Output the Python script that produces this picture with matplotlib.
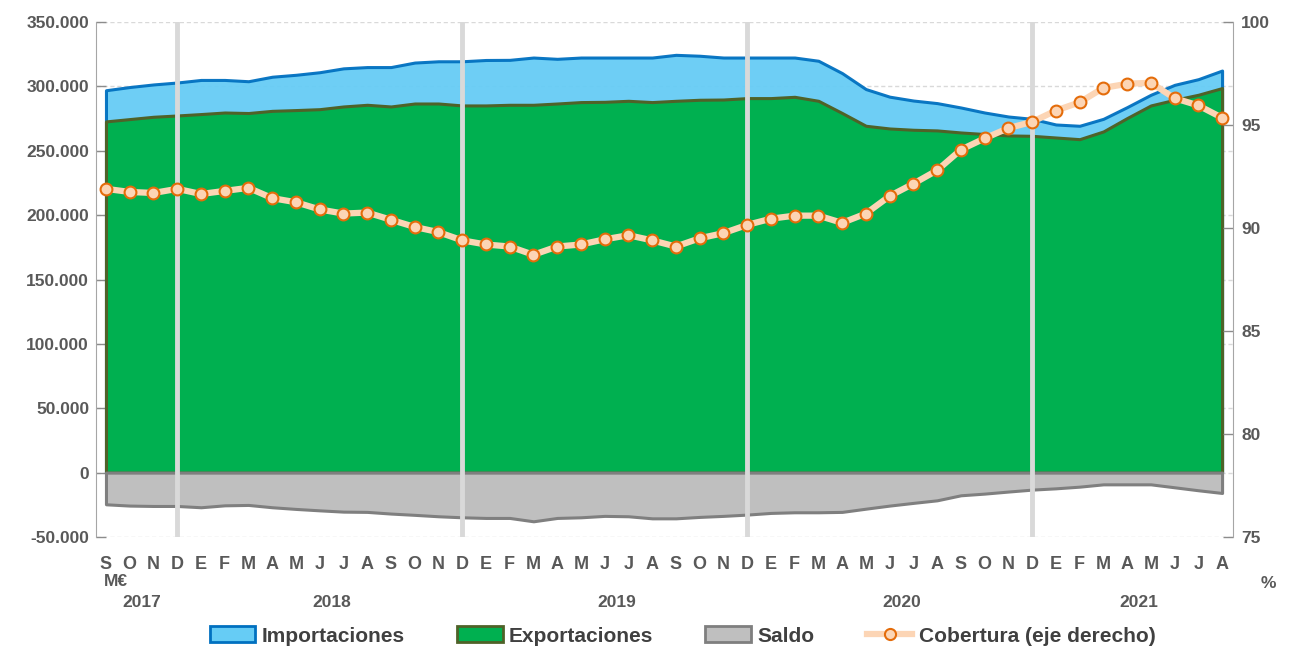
import numpy as np
import matplotlib.pyplot as plt
from matplotlib.patches import Patch
from matplotlib.lines import Line2D
from matplotlib.ticker import FuncFormatter

# Meses (sep 2017 - ago 2021)
meses = ['S', 'O', 'N', 'D',
         'E', 'F', 'M', 'A', 'M', 'J', 'J', 'A', 'S', 'O', 'N', 'D',
         'E', 'F', 'M', 'A', 'M', 'J', 'J', 'A', 'S', 'O', 'N', 'D',
         'E', 'F', 'M', 'A', 'M', 'J', 'J', 'A', 'S', 'O', 'N', 'D',
         'E', 'F', 'M', 'A', 'M', 'J', 'J', 'A']
anios = ['2017', '2018', '2019', '2020', '2021']
meses_por_anio = [4, 12, 12, 12, 8]

# Importaciones, exportaciones y saldo (miles de M€)
importaciones = [297.0, 299.5, 301.5, 303.0, 305.0, 305.0, 304.0, 307.5, 309.0, 311.0,
                 314.0, 315.0, 315.0, 318.5, 319.5, 319.5, 320.5, 320.6, 322.4, 321.4,
                 322.4, 322.4, 322.4, 322.4, 324.5, 323.8, 322.4, 322.4, 322.4, 322.4,
                 319.9, 310.3, 297.9, 292.0, 289.0, 287.0, 283.6, 279.7, 276.6, 274.8,
                 270.4, 269.4, 274.8, 283.9, 293.5, 301.2, 305.6, 312.3]
exportaciones = [272.8, 274.6, 276.4, 277.4, 278.5, 279.7, 279.3, 281.0, 281.6, 282.3,
                 284.4, 285.7, 284.4, 286.7, 286.7, 285.2, 285.2, 285.7, 285.7, 286.7,
                 287.8, 288.0, 288.8, 287.8, 288.8, 289.6, 289.8, 290.9, 290.9, 291.9,
                 288.8, 279.3, 269.4, 267.3, 266.3, 265.8, 264.2, 263.0, 261.9, 261.6,
                 260.3, 259.0, 265.0, 275.4, 285.2, 289.6, 293.5, 298.7]
saldo = [-24.6, -25.6, -25.9, -25.9, -26.9, -25.4, -25.1, -26.9, -28.2, -29.3,
         -30.3, -30.5, -31.8, -32.8, -33.9, -34.7, -35.2, -35.2, -37.8, -35.2,
         -34.7, -33.6, -33.9, -35.5, -35.5, -34.4, -33.6, -32.6, -31.3, -30.8,
         -30.8, -30.5, -28.0, -25.6, -23.5, -21.5, -17.6, -16.3, -14.7, -13.2,
         -12.2, -10.9, -9.1, -9.1, -9.1, -11.4, -13.7, -15.8]

# Cobertura (%), eje derecho
cobertura = [91.9, 91.75, 91.7, 91.9, 91.65, 91.8, 91.95, 91.45, 91.25, 90.9,
             90.7, 90.75, 90.4, 90.05, 89.8, 89.4, 89.2, 89.1, 88.7, 89.1,
             89.2, 89.45, 89.65, 89.4, 89.1, 89.5, 89.75, 90.15, 90.45, 90.6,
             90.6, 90.25, 90.7, 91.55, 92.15, 92.8, 93.8, 94.35, 94.85, 95.15,
             95.7, 96.1, 96.8, 97.0, 97.05, 96.3, 95.95, 95.35]

x = np.arange(len(meses))
imp = np.array(importaciones) * 1000
exp_ = np.array(exportaciones) * 1000
sal = np.array(saldo) * 1000

# Fuente
plt.rcParams['font.family'] = ['Liberation Sans', 'DejaVu Sans']
plt.rcParams['font.weight'] = 'bold'
gris_txt = '#595959'

fig = plt.figure(figsize=(13, 6.5), dpi=100)
ax1 = fig.add_axes([96 / 1300, 1 - 537 / 650, (1233 - 96) / 1300, (537 - 22) / 650])

# Rejilla
ax1.set_axisbelow(True)
ax1.yaxis.grid(True, color='#D9D9D9', lw=1, ls=(0, (3, 2)))

# Áreas
ax1.fill_between(x, 0, imp, facecolor='#66CCF5', edgecolor='#0070C0', lw=2.2, alpha=0.95, zorder=2)
ax1.fill_between(x, 0, exp_, facecolor='#00B050', edgecolor='#4F6228', lw=2.2, zorder=3)
ax1.fill_between(x, 0, sal, facecolor='#BFBFBF', edgecolor='#7F7F7F', lw=2.2, zorder=4)

# Líneas de separación de años
for i in range(len(meses)):
    if meses[i] == 'D':
        ax1.axvline(i, color='#D9D9D9', lw=3.5, zorder=5)

ax1.set_xlim(-0.42, len(meses) - 1 + 0.46)
ax1.set_ylim(-50000, 350000)
ax1.set_yticks(np.arange(-50000, 350001, 50000))
ax1.yaxis.set_major_formatter(FuncFormatter(lambda v, p: f'{int(v):,}'.replace(',', '.')))
ax1.set_xticks([])
ax1.tick_params(axis='y', direction='in', colors='#8C8C8C', labelcolor=gris_txt,
                labelsize=12.5, length=7, width=1, pad=5)
for s in ['top', 'bottom', 'right']:
    ax1.spines[s].set_visible(False)
ax1.spines['left'].set_color('#A6A6A6')

# Eje derecho: cobertura
ax2 = ax1.twinx()
ax2.plot(x, cobertura, color='#FCD5B5', lw=4.5, marker='o', ms=8.5,
         mfc='#FCD5B5', mec='#E46C0A', mew=1.5, zorder=6)
ax2.set_ylim(75, 100)
ax2.set_yticks(np.arange(75, 101, 5))
ax2.tick_params(axis='y', direction='in', colors='#8C8C8C', labelcolor=gris_txt,
                labelsize=12.5, length=7, width=1, pad=6)
for s in ['top', 'bottom', 'left']:
    ax2.spines[s].set_visible(False)
ax2.spines['right'].set_color('#A6A6A6')

# Etiquetas de meses y años
tr = ax1.get_xaxis_transform()
for i in range(len(meses)):
    ax1.text(x[i], -0.054, meses[i], transform=tr, ha='center', va='center',
             fontsize=13, color=gris_txt, fontweight='bold')
inicio = 0
for a, n in zip(anios, meses_por_anio):
    centro = inicio + (n - 1) / 2
    ax1.text(centro, -0.128, a, transform=tr, ha='center', va='center',
             fontsize=12.5, color=gris_txt, fontweight='bold')
    inicio += n

fig.text(116 / 1300, 1 - 582 / 650, 'M€', ha='center', va='center', fontsize=12.5, color=gris_txt, fontweight='bold')
fig.text(1268 / 1300, 1 - 583 / 650, '%', ha='center', va='center', fontsize=12.5, color=gris_txt, fontweight='bold')

# Leyenda
handles = [Patch(facecolor='#66CCF5', edgecolor='#0070C0', lw=2),
           Patch(facecolor='#00B050', edgecolor='#4F6228', lw=2),
           Patch(facecolor='#BFBFBF', edgecolor='#7F7F7F', lw=2),
           Line2D([], [], color='#FCD5B5', lw=4.5, marker='o', ms=8,
                  mfc='#FCD5B5', mec='#E46C0A', mew=1.5)]
etiquetas = ['Importaciones', 'Exportaciones', 'Saldo', 'Cobertura (eje derecho)']
leg = fig.legend(handles, etiquetas, loc='center', bbox_to_anchor=(0.525, 1 - 636 / 650),
                 ncol=4, frameon=False, fontsize=15, handlelength=2.2, handleheight=0.8,
                 handletextpad=0.3, columnspacing=2.5)
for t in leg.get_texts():
    t.set_color('#404040')

fig.savefig('out.png', dpi=100)
